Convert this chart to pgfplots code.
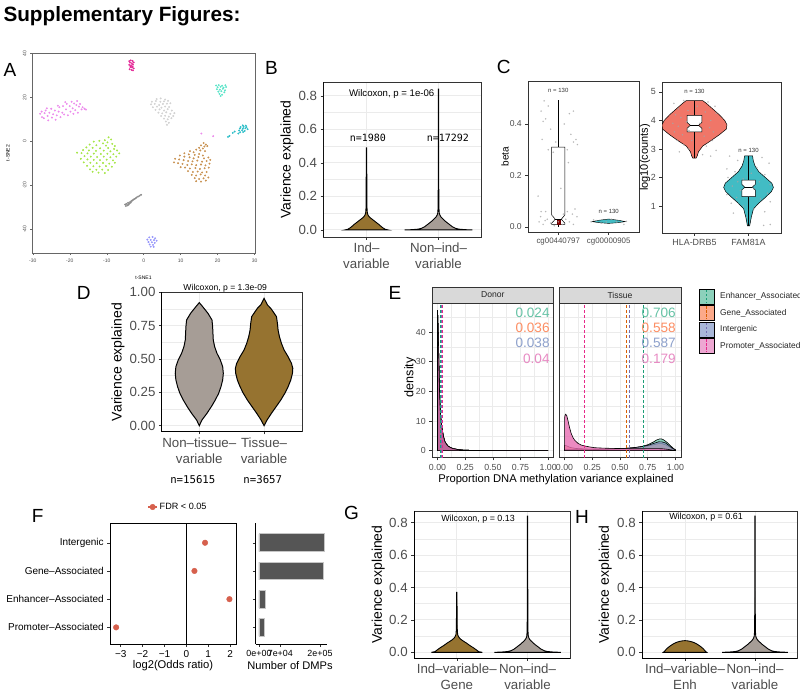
\documentclass[border=0pt]{standalone}
\usepackage{fontspec}
\setmainfont{Liberation Sans}
\newfontfamily\monofont{DejaVu Sans Mono}
\usepackage{pgfplots}
\usepackage{pgfplotstable}
\pgfplotsset{compat=1.18}
\newcommand\fs[2]{\fontsize{#1}{#2}\selectfont}
\definecolor{vbrown}{RGB}{150,115,48}
\definecolor{vgray}{RGB}{166,157,150}
\definecolor{gridc}{RGB}{235,235,235}
\definecolor{gg20}{RGB}{51,51,51}
\definecolor{gg30}{RGB}{77,77,77}
\definecolor{s2g}{HTML}{66C2A5}
\definecolor{s2o}{HTML}{FC8D62}
\definecolor{s2p}{HTML}{8DA0CB}
\definecolor{s2m}{HTML}{E78AC3}
\definecolor{d2g}{HTML}{1B9E77}
\definecolor{d2o}{HTML}{D95F02}
\definecolor{d2p}{HTML}{7570B3}
\definecolor{d2m}{HTML}{E7298A}
\definecolor{salm}{RGB}{240,118,104}
\definecolor{tealv}{RGB}{66,188,196}
\definecolor{fdr}{RGB}{214,96,77}
\definecolor{barg}{RGB}{85,85,85}
\definecolor{strip}{RGB}{217,217,217}
\definecolor{amag}{RGB}{228,40,150}
\definecolor{aturq}{RGB}{90,228,200}
\definecolor{aviol}{RGB}{236,140,236}
\definecolor{alg}{RGB}{210,210,210}
\definecolor{ateal}{RGB}{45,190,200}
\definecolor{abrown}{RGB}{200,145,80}
\definecolor{agreen}{RGB}{165,230,70}
\definecolor{agray}{RGB}{140,140,140}
\definecolor{ablue}{RGB}{150,150,250}
\pgfplotsset{gg/.style={scale only axis, anchor=south west, tick align=outside,
  major tick length=2.75pt, minor tick length=0pt, tick style={gg20, line width=0.5pt},
  axis line style={gg20, line width=0.5pt}, tick label style={text=gg30},
  major grid style={gridc, line width=0.9pt}, minor grid style={gridc, line width=0.45pt},
  xtick pos=bottom, ytick pos=left},
 vio/.style={gg, xmin=0.4, xmax=2.6, xtick={1,2}, grid=both,
  ytick={0,0.2,0.4,0.6,0.8}, yticklabels={0.0,0.2,0.4,0.6,0.8}, minor ytick={0.1,0.3,0.5,0.7},
  tick label style={font=\fs{13.3}{16}}, xticklabel style={align=center},
  ylabel={Varience explained}, ylabel style={font=\fs{14}{16}, anchor=center, text=black}}
}
% ---------- violin profiles: y, half width (right side up, left side down)
\pgfplotstableread{
y w
0 0.30
0.004 0.26
0.012 0.23
0.02 0.205
0.03 0.18
0.04 0.15
0.05 0.12
0.06 0.09
0.07 0.06
0.08 0.035
0.09 0.02
0.1 0.012
0.13 0.007
0.2 0.005
0.35 0.004
0.49 0.002
0.49 -0.002
0.35 -0.004
0.2 -0.005
0.13 -0.007
0.1 -0.012
0.09 -0.02
0.08 -0.035
0.07 -0.06
0.06 -0.09
0.05 -0.12
0.04 -0.15
0.03 -0.18
0.02 -0.205
0.012 -0.23
0.004 -0.26
0 -0.30
}\vBone
\pgfplotstableread{
y w
0 0.47
0.002 0.36
0.005 0.28
0.01 0.235
0.02 0.19
0.03 0.16
0.04 0.13
0.05 0.1
0.06 0.075
0.07 0.05
0.08 0.03
0.09 0.018
0.1 0.011
0.13 0.006
0.25 0.004
0.5 0.003
0.84 0.002
0.84 -0.002
0.5 -0.003
0.25 -0.004
0.13 -0.006
0.1 -0.011
0.09 -0.018
0.08 -0.03
0.07 -0.05
0.06 -0.075
0.05 -0.1
0.04 -0.13
0.03 -0.16
0.02 -0.19
0.01 -0.235
0.005 -0.28
0.002 -0.36
0 -0.47
}\vNon
\pgfplotstableread{
y w
0 0.36
0.004 0.31
0.014 0.28
0.025 0.245
0.035 0.21
0.045 0.175
0.056 0.14
0.066 0.105
0.076 0.07
0.086 0.042
0.097 0.024
0.11 0.012
0.14 0.007
0.25 0.004
0.37 0.002
0.37 -0.002
0.25 -0.004
0.14 -0.007
0.11 -0.012
0.097 -0.024
0.086 -0.042
0.076 -0.07
0.066 -0.105
0.056 -0.14
0.045 -0.175
0.035 -0.21
0.025 -0.245
0.014 -0.28
0.004 -0.31
0 -0.36
}\vGone
\pgfplotstableread{
y w
0 0.31
0.005 0.295
0.01 0.285
0.02 0.265
0.03 0.24
0.04 0.21
0.05 0.175
0.058 0.14
0.064 0.105
0.068 0.07
0.071 0.035
0.072 0
0.071 -0.035
0.068 -0.07
0.064 -0.105
0.058 -0.14
0.05 -0.175
0.04 -0.21
0.03 -0.24
0.02 -0.265
0.01 -0.285
0.005 -0.295
0 -0.31
}\vHone
\pgfplotstableread{
y w
0 0
0.0425 0.041
0.0925 0.118
0.1425 0.186
0.1925 0.247
0.2425 0.299
0.2925 0.335
0.3425 0.361
0.3925 0.371
0.4425 0.361
0.4925 0.325
0.5425 0.273
0.5925 0.237
0.6425 0.216
0.6925 0.211
0.7425 0.206
0.7925 0.196
0.8425 0.134
0.8925 0.052
0.9225 0
0.8925 -0.052
0.8425 -0.134
0.7925 -0.196
0.7425 -0.206
0.6925 -0.211
0.6425 -0.216
0.5925 -0.237
0.5425 -0.273
0.4925 -0.325
0.4425 -0.361
0.3925 -0.371
0.3425 -0.361
0.2925 -0.335
0.2425 -0.299
0.1925 -0.247
0.1425 -0.186
0.0925 -0.118
0.0425 -0.041
}\vDone
\pgfplotstableread{
y w
0 0
0.0425 0.046
0.0925 0.113
0.1425 0.186
0.1925 0.258
0.2425 0.32
0.2925 0.371
0.3425 0.412
0.3925 0.438
0.43 0.443
0.4675 0.423
0.5175 0.371
0.5675 0.309
0.6175 0.268
0.6675 0.237
0.7175 0.216
0.7675 0.206
0.8175 0.191
0.855 0.139
0.88 0.103
0.905 0.052
0.93 0.026
0.955 0
0.93 -0.026
0.905 -0.052
0.88 -0.103
0.855 -0.139
0.8175 -0.191
0.7675 -0.206
0.7175 -0.216
0.6675 -0.237
0.6175 -0.268
0.5675 -0.309
0.5175 -0.371
0.4675 -0.423
0.43 -0.443
0.3925 -0.438
0.3425 -0.412
0.2925 -0.371
0.2425 -0.32
0.1925 -0.258
0.1425 -0.186
0.0925 -0.113
0.0425 -0.046
}\vDtwo
\pgfplotstableread{
y w
2.68 0.03
2.75 0.05
2.9 0.074
3.1 0.15
3.3 0.31
3.5 0.46
3.7 0.59
3.85 0.6
4.0 0.56
4.2 0.46
4.4 0.34
4.6 0.22
4.7 0.15
4.7 -0.15
4.6 -0.22
4.4 -0.34
4.2 -0.46
4.0 -0.56
3.85 -0.6
3.7 -0.59
3.5 -0.46
3.3 -0.31
3.1 -0.15
2.9 -0.074
2.75 -0.05
2.68 -0.03
}\vHLA
\pgfplotstableread{
y w
0.3 0.02
0.6 0.05
0.9 0.09
1.1 0.19
1.3 0.31
1.5 0.42
1.65 0.46
1.8 0.43
2.0 0.31
2.2 0.19
2.4 0.12
2.6 0.086
2.76 0.074
2.76 -0.074
2.6 -0.086
2.4 -0.12
2.2 -0.19
2.0 -0.31
1.8 -0.43
1.65 -0.46
1.5 -0.42
1.3 -0.31
1.1 -0.19
0.9 -0.09
0.6 -0.05
0.3 -0.02
}\vFAM
% ---------- densities
\pgfplotstableread{
x y
0 0
0 47.4
0.003 44
0.006 40
0.009 35.6
0.012 30
0.015 24.4
0.018 20
0.021 16.6
0.025 13.5
0.03 11
0.037 8.5
0.045 6.5
0.055 4.6
0.066 3.1
0.08 2.2
0.096 1.5
0.12 1.0
0.14 0.7
0.18 0.4
0.23 0.2
0.3 0.1
0.5 0.03
0.75 0.01
1.0 0
}\donor
\pgfplotstableread{
x y
0 0
0 0.45
0.1 0.4
0.2 0.38
0.3 0.4
0.4 0.45
0.5 0.6
0.6 0.9
0.65 1.1
0.7 1.45
0.75 2.0
0.8 2.9
0.83 3.6
0.86 4.0
0.88 3.9
0.9 3.5
0.93 2.6
0.96 1.5
0.98 0.8
1.0 0.3
1.0 0
}\tEnh
\pgfplotstableread{
x y
0 0
0 1.8
0.02 1.6
0.05 1.1
0.1 0.75
0.2 0.55
0.3 0.5
0.4 0.55
0.5 0.7
0.6 0.9
0.7 1.3
0.75 1.6
0.8 2.0
0.85 2.4
0.88 2.35
0.91 2.0
0.94 1.4
0.97 0.7
1.0 0.2
1.0 0
}\tGene
\pgfplotstableread{
x y
0 0
0 0.35
0.1 0.35
0.2 0.35
0.3 0.4
0.4 0.5
0.5 0.65
0.6 0.9
0.7 1.4
0.75 1.8
0.8 2.4
0.85 3.0
0.88 2.95
0.91 2.6
0.94 1.8
0.97 0.9
1.0 0.25
1.0 0
}\tInt
\pgfplotstableread{
x y
0 0
0 11
0.005 12
0.01 12.3
0.02 11.8
0.03 10.3
0.045 7.8
0.06 5.8
0.075 4.5
0.09 3.6
0.12 2.5
0.15 1.9
0.18 1.6
0.22 1.3
0.27 1.0
0.35 0.85
0.45 0.75
0.6 0.65
0.7 0.65
0.8 0.7
0.88 0.65
0.93 0.45
0.97 0.2
1.0 0.05
1.0 0
}\tProm
\begin{document}
\begin{tikzpicture}
\useasboundingbox (0,0) rectangle (800pt,696pt);
\clip (0,0) rectangle (800pt,696pt);
% ================= A
\begin{axis}[scale only axis, anchor=south west, at={(32pt,443pt)}, width=223pt, height=200pt,
  xmin=-30.2, xmax=30.1, ymin=-50.9, ymax=40.2,
  axis line style={black!60, line width=0.4pt}, tick align=outside, major tick length=2pt,
  tick style={black!60, line width=0.4pt}, xtick pos=bottom, ytick pos=left,
  xtick={-30,-20,-10,0,10,20,30}, xticklabels={-30,-20,-10,0,10,20,30},
  ytick={-40,-20,0,20,40}, yticklabels={-40,-20,0,20,40},
  tick label style={font=\fs{5}{6}, text=black!70}, yticklabel style={rotate=90, anchor=south},
  xlabel={t-SNE1}, xlabel style={font=\fs{5}{6}, at={(axis description cs:0.5,-0.125)}, anchor=center},
  ylabel={t-SNE2}, ylabel style={font=\fs{5}{6}, at={(axis description cs:-0.108,0.5)}, anchor=center},
  every axis plot/.append style={only marks, mark=*, mark size=0.75pt}]
\addplot[amag] coordinates {(-3.9,36.5) (-3.5,36.8) (-3.0,36.6) (-3.7,35.8) (-3.2,35.5) (-2.7,35.9) (-3.9,34.8) (-3.4,34.6) (-2.9,34.9) (-3.6,33.8) (-3.1,33.6) (-2.7,33.2) (-3.8,32.8) (-3.3,32.5) (-2.9,32.3) (-3.5,34.1) (-3.0,34.0)};
\addplot[aturq] coordinates {(19.6,25.4) (20.3,25.6) (21.2,25.3) (22.1,25.5) (20.0,24.6) (20.8,24.8) (21.6,24.4) (22.3,24.7) (19.8,23.7) (20.6,23.5) (21.4,23.9) (22.0,23.2) (20.2,22.6) (21.0,22.8) (21.8,22.3) (20.5,21.6) (21.2,21.2) (20.8,20.6)};
\addplot[aviol] coordinates {(-28,12.5) (-27.5,11) (-27.6,13.5) (-27,10.5) (-26.8,12.8) (-26.5,14) (-26,11.5) (-25.8,9.5) (-25.5,13) (-25,14.8) (-24.8,10.8) (-24.5,12.3) (-24,14) (-23.8,9.8) (-23.5,11.8) (-23,13.5) (-22.8,15.5) (-22.5,11) (-22,13) (-21.8,16) (-21.5,12.2) (-21,14.5) (-20.8,17) (-20.5,11.8) (-20,16) (-19.8,13.5) (-19.5,18) (-19.2,15) (-19,12.5) (-18.8,17.2) (-18.5,14.2) (-18.2,16.5) (-18,18.3) (-17.8,13) (-17.5,15.8) (-17.2,17) (-16.8,14.5) (-16.5,15.5) (-16,14.8) (-15.6,14.4) (-26.2,15) (-23.2,16.2) (-21.2,17.8) (15.6,3.5) (18.8,2.3)};
\addplot[alg] coordinates {(3.5,19.2) (4.6,19.5) (5.8,19) (2.2,18) (3.3,18.3) (4.5,18) (5.5,18.2) (6.6,18.4) (2.0,16.8) (3.0,17) (4.2,16.5) (5.2,17) (6.3,17.1) (7.2,17.3) (2.5,15.5) (3.6,15.8) (4.8,15.3) (5.8,15.8) (6.9,15.6) (3.2,14.3) (4.3,14.5) (5.5,14) (6.5,14.6) (7.6,14) (4,13) (5,12.7) (6.1,13.2) (7.2,12.5) (8.3,12.8) (4.7,11.5) (5.8,11.6) (6.8,11.2) (8,11.5) (5.5,10.3) (6.5,10) (7.5,10.5) (6,9) (6.8,8.4) (6.3,7.5)};
\addplot[ateal] coordinates {(26.8,7.2) (27.6,7.1) (26.2,6.5) (27,6.6) (27.8,6.4) (26,5.8) (26.8,5.7) (27.5,5.9) (28.1,5.5) (25.8,4.9) (26.6,5) (27.3,4.7) (26.1,4.1) (26.9,4.2) (25.6,3.5) (24.6,4.4) (24.1,3.8) (22.8,2.0) (23.2,2.4)};
\addplot[abrown] coordinates {(16.2,-0.8) (16.8,-1.5) (15.5,-1.9) (16.4,-2.4) (17.2,-2.2) (15,-3) (16,-3.3) (14.2,-3.8) (15.3,-4.2) (16.6,-4.5) (12.5,-4.5) (13.5,-5) (11,-5.5) (12.2,-6) (13.8,-6.2) (15,-5.8) (16,-6.5) (9.8,-6.5) (11,-7) (12.4,-7.3) (13.5,-7.8) (14.8,-7.2) (16.3,-7.8) (17.5,-7.4) (8.5,-8) (9.6,-8.3) (10.8,-8.6) (12,-9) (13.2,-9.2) (14.5,-8.8) (15.8,-9.3) (17,-9) (18,-8.5) (8.2,-9.6) (9.3,-10) (10.5,-10.3) (11.8,-10.8) (13,-10.5) (14.2,-10.9) (15.5,-10.6) (16.7,-11) (17.8,-10.2) (10,-11.8) (11.2,-12) (12.5,-12.4) (14,-12.2) (15.2,-12.6) (16.5,-12.3) (17.6,-12) (12,-13.6) (13.3,-14) (14.6,-13.8) (15.8,-14.2) (17,-14) (13,-15.3) (14.2,-15.6) (15.4,-15.1) (16.6,-15.6) (13.8,-16.8) (15,-17.2) (16.2,-16.9) (14.2,-18.2) (15.5,-18.4) (16.8,-17.9) (17.5,-16.5)};
\addplot[agreen] coordinates {(-9.5,1.8) (-8.8,0.8) (-10.5,0.5) (-12,0.2) (-13.5,-0.2) (-9.8,-0.5) (-11,-1) (-8.5,-1.2) (-14.6,-1.5) (-12.8,-1.8) (-10.2,-2) (-7.8,-2.2) (-15.5,-2.8) (-13.8,-3) (-11.8,-3.2) (-9.6,-3.1) (-8,-3.5) (-16.4,-4) (-14.8,-4.2) (-12.9,-4.4) (-10.8,-4.3) (-9,-4.6) (-7.2,-4.2) (-18,-5.2) (-16.8,-5.4) (-15.2,-5.5) (-13.5,-5.6) (-11.6,-5.8) (-9.8,-5.7) (-8.2,-5.9) (-6.6,-5.5) (-16,-6.8) (-14.3,-7) (-12.6,-7.2) (-10.8,-7) (-9,-7.3) (-7.4,-7) (-17,-8) (-15.2,-8.3) (-13.5,-8.5) (-11.8,-8.6) (-10,-8.4) (-8.3,-8.7) (-16.2,-9.6) (-14.4,-9.8) (-12.7,-10) (-11,-9.9) (-9.3,-10.2) (-7.8,-9.8) (-15.3,-11.2) (-13.6,-11.4) (-11.9,-11.5) (-10.2,-11.3) (-8.6,-11.6) (-14.5,-12.8) (-12.8,-13) (-11.2,-12.9) (-9.6,-13.1) (-12.2,-14.3) (-10.5,-14.5) (-13.8,-13.9)};
\addplot[agray] coordinates {(-5,-28.8) (-4.6,-28.5) (-4.4,-29.2) (-4.2,-28) (-3.9,-28.4) (-3.7,-27.7) (-3.4,-27.3) (-3.1,-27) (-2.8,-26.6) (-2.5,-26.3) (-2.2,-26) (-1.9,-25.6) (-1.5,-25.2) (-1.1,-24.8) (-0.7,-24.4) (-4.8,-29.5) (-4.1,-28.9) (-3.5,-28)};
\addplot[ablue] coordinates {(1.5,-43.8) (2.4,-43.6) (3.1,-44.2) (1,-44.8) (1.9,-44.9) (2.8,-45) (3.5,-45.3) (1.3,-45.9) (2.2,-46) (3,-46.3) (1.6,-47) (2.5,-47.2) (1.9,-48) (2.7,-48.1)};
\end{axis}
% ================= B
\begin{axis}[vio, at={(323.3pt,459pt)}, width=158.4pt, height=155pt, ymin=-0.042, ymax=0.882,
  xticklabels={{Ind–\\variable},{Non–ind–\\variable}},
  ylabel style={at={(axis description cs:-0.229,0.5)}}]
\addplot[fill=vbrown, draw=black, line width=0.9pt] table[x expr=1+\thisrow{w}, y=y] {\vBone} -- cycle;
\addplot[fill=vgray, draw=black, line width=0.9pt] table[x expr=2+\thisrow{w}, y=y] {\vNon} -- cycle;
\node[font=\fs{9.6}{11}] at (axis cs:1.35,0.81) {Wilcoxon, p = 1e-06};
\node[font=\monofont\fs{10}{11}] at (axis cs:1.02,0.55) {n=1980};
\node[font=\monofont\fs{10}{11}] at (axis cs:2.13,0.55) {n=17292};
\draw[black, line width=0.7pt] (rel axis cs:0,1) -- (rel axis cs:0,0) -- (rel axis cs:1,0);
\end{axis}
% ================= C1
\begin{axis}[gg, at={(528pt,464pt)}, width=111pt, height=151pt, xmin=0.4, xmax=2.6, ymin=-0.0194, ymax=0.567,
  xtick={1,2}, xticklabels={cg00440797,cg00000905}, ytick={0,0.2,0.4}, yticklabels={0.0,0.2,0.4},
  xticklabel style={font=\fs{7.9}{9}}, yticklabel style={font=\fs{8.6}{10}},
  ylabel={beta}, ylabel style={font=\fs{10}{12}, text=black, at={(axis description cs:-0.207,0.5)}, anchor=center}]
\addplot[black, line width=0.6pt] coordinates {(1,0.31) (1,0.493)};
\addplot[black, line width=0.6pt] coordinates {(1,0.01) (1,0.0)};
\addplot[fill=white, draw=black, line width=0.5pt] coordinates {(0.87,0.31) (1.13,0.31) (1.13,0.047) (1.06,0.03) (1.13,0.015) (1.13,0.01) (0.87,0.01) (0.87,0.015) (0.94,0.03) (0.87,0.047)} -- cycle;
\addplot[fill=red!55!black, draw=red!40!black] coordinates {(0.97,0.01) (1.03,0.01) (1.03,0.032) (0.97,0.032)} -- cycle;
\addplot[black, line width=0.6pt] coordinates {(0.94,0.03) (1.06,0.03)};
\addplot[fill=tealv, draw=black, line width=0.4pt] coordinates {(1.67,0.021) (1.8,0.017) (2,0.014) (2.2,0.017) (2.33,0.021) (2.2,0.026) (2,0.031) (1.8,0.026)} -- cycle;
\addplot[only marks, mark=*, mark size=0.6pt, gray!70, opacity=0.6] coordinates {(0.72,0.49) (0.8,0.47) (0.66,0.45) (1.3,0.45) (1.22,0.44) (0.75,0.42) (0.7,0.41) (1.12,0.40) (0.85,0.38) (1.25,0.36) (1.35,0.34) (0.68,0.34) (1.3,0.33) (0.95,0.33) (0.8,0.3) (1.2,0.25) (1.18,0.3) (0.9,0.29) (1.38,0.32) (0.6,0.12) (1.05,0.15) (0.75,0.06) (0.65,0.04) (0.62,0.02) (0.7,0.01) (0.78,0.03) (0.85,0.015) (0.92,0.005) (1.0,0.02) (1.08,0.01) (1.15,0.03) (1.22,0.02) (1.3,0.01) (1.37,0.04) (0.66,0.06) (1.33,0.07) (1.28,0.05) (0.74,0.025) (1.18,0.06) (1.1,0.05) (0.88,0.045) (1.65,0.02) (1.75,0.025) (1.85,0.015) (1.95,0.02) (2.05,0.03) (2.15,0.02) (2.25,0.018) (2.35,0.022) (1.7,0.028) (2.3,0.01)};
\node[font=\fs{6}{7}, text=black!80] at (axis cs:1,0.53) {n = 130};
\node[font=\fs{6}{7}, text=black!80] at (axis cs:2,0.062) {n = 130};
\end{axis}
% ================= C2
\begin{axis}[gg, at={(662pt,463pt)}, width=119pt, height=151pt, xmin=0.4, xmax=2.6, ymin=0.053, ymax=5.35,
  xtick={1,2}, xticklabels={HLA-DRB5,FAM81A}, ytick={1,2,3,4,5}, yticklabels={1,2,3,4,5},
  tick label style={font=\fs{8.9}{10}},
  ylabel={log10(counts)}, ylabel style={font=\fs{11}{12}, text=black, at={(axis description cs:-0.143,0.5)}, anchor=center}]
\addplot[fill=salm, draw=black, line width=0.5pt] table[x expr=1+\thisrow{w}, y=y] {\vHLA} -- cycle;
\addplot[fill=tealv, draw=black, line width=0.5pt] table[x expr=2+\thisrow{w}, y=y] {\vFAM} -- cycle;
\addplot[black, line width=0.6pt] coordinates {(1,4.18) (1,4.7)};
\addplot[black, line width=0.6pt] coordinates {(1,3.6) (1,2.7)};
\addplot[black, line width=0.6pt] coordinates {(2,1.91) (2,2.76)};
\addplot[black, line width=0.6pt] coordinates {(2,1.33) (2,0.3)};
\addplot[fill=white, draw=black, line width=0.5pt] coordinates {(0.865,4.18) (1.135,4.18) (1.135,3.93) (1.075,3.83) (1.135,3.73) (1.135,3.6) (0.865,3.6) (0.865,3.73) (0.925,3.83) (0.865,3.93)} -- cycle;
\addplot[black, line width=0.6pt] coordinates {(0.925,3.83) (1.075,3.83)};
\addplot[fill=white, draw=black, line width=0.5pt] coordinates {(1.875,1.91) (2.125,1.91) (2.125,1.76) (2.07,1.66) (2.125,1.56) (2.125,1.33) (1.875,1.33) (1.875,1.56) (1.93,1.66) (1.875,1.76)} -- cycle;
\addplot[black, line width=0.6pt] coordinates {(1.93,1.66) (2.07,1.66)};
\addplot[only marks, mark=*, mark size=0.6pt, gray!70, opacity=0.6] coordinates {(0.62,4.6) (0.7,4.4) (0.8,4.7) (1.25,4.65) (1.38,4.5) (0.65,4.2) (0.75,4.1) (1.2,4.3) (1.3,4.0) (1.4,4.25) (0.6,3.9) (0.7,3.8) (0.85,3.95) (1.1,3.9) (1.28,3.75) (1.35,3.6) (0.63,3.6) (0.78,3.5) (0.9,3.65) (1.18,3.45) (1.33,3.3) (0.68,3.3) (0.8,3.15) (1.22,3.1) (1.4,2.95) (0.72,2.9) (0.9,3.0) (1.15,2.8) (1.3,2.75) (0.95,3.3) (1.05,4.5) (0.88,4.35) (1.65,2.75) (1.8,2.6) (2.25,2.7) (2.38,2.5) (1.6,2.3) (1.75,2.2) (2.15,2.35) (2.3,2.1) (1.62,2.0) (1.9,1.95) (2.2,1.85) (2.4,1.75) (1.7,1.7) (1.85,1.55) (2.1,1.6) (2.35,1.45) (1.6,1.4) (1.78,1.3) (2.22,1.25) (2.4,1.15) (1.68,1.1) (1.9,1.0) (2.1,0.9) (2.3,0.8) (1.72,0.75) (1.95,0.6) (2.28,0.32) (2.4,0.35) (1.8,1.85) (2.05,2.15)};
\node[font=\fs{6}{7}, text=black!80] at (axis cs:1,5.03) {n = 130};
\node[font=\fs{6}{7}, text=black!80] at (axis cs:2,2.96) {n = 130};
\end{axis}
% ================= D
\begin{axis}[vio, at={(161.7pt,264.3pt)}, width=140.6pt, height=139.4pt, clip=false,
  xmin=0.42, xmax=2.59, ymin=-0.045, ymax=1.0,
  ytick={0,0.25,0.5,0.75,1}, yticklabels={0.00,0.25,0.50,0.75,1.00}, minor ytick={0.125,0.375,0.625,0.875},
  xticklabels={{Non–tissue–\\variable},{Tissue–\\variable}},
  ylabel style={at={(axis description cs:-0.31,0.5)}}]
\addplot[fill=vgray, draw=black, line width=1pt] table[x expr=1+\thisrow{w}, y=y] {\vDone} -- cycle;
\addplot[fill=vbrown, draw=black, line width=1pt] table[x expr=2+\thisrow{w}, y=y] {\vDtwo} -- cycle;
\node[font=\fs{8.6}{10}] at (axis cs:1.4,1.03) {Wilcoxon, p = 1.3e-09};
\node[font=\monofont\fs{10.7}{12}] at (axis cs:0.9,-0.407) {n=15615};
\node[font=\monofont\fs{10.7}{12}] at (axis cs:1.98,-0.407) {n=3657};
\draw[black, line width=0.7pt] (rel axis cs:0,1) -- (rel axis cs:0,0) -- (rel axis cs:1,0);
\end{axis}
% ================= E1
\begin{axis}[gg, at={(432pt,238.3pt)}, width=121.7pt, height=154.7pt, clip=false,
  xmin=-0.05, xmax=1.05, ymin=-2.37, ymax=49.8, grid=both,
  xtick={0,0.25,0.5,0.75,1}, xticklabels={0.00,0.25,0.50,0.75,1.00}, minor xtick={0.125,0.375,0.625,0.875},
  ytick={0,10,20,30,40}, yticklabels={0,10,20,30,40}, minor ytick={5,15,25,35,45},
  tick label style={font=\fs{8.8}{10}},
  ylabel={density}, ylabel style={font=\fs{12.6}{14}, text=black, at={(axis description cs:-0.18,0.52)}, anchor=center}]
\addplot[fill=s2g, fill opacity=0.75, draw=black, line width=0.6pt] table[x=x,y=y] {\donor} -- cycle;
\addplot[fill=s2o, fill opacity=0.75, draw=black, line width=0.6pt] table[x=x,y=y] {\donor} -- cycle;
\addplot[fill=s2p, fill opacity=0.75, draw=black, line width=0.6pt] table[x=x,y=y] {\donor} -- cycle;
\addplot[fill=s2m!70!d2m!85!black, fill opacity=0.85, draw=black, line width=0.6pt] table[x=x,y=y] {\donor} -- cycle;
\addplot[d2g, line width=0.7pt, dash pattern=on 3pt off 2pt] coordinates {(0.024,-2.37) (0.024,49.8)};
\addplot[d2o, line width=0.7pt, dash pattern=on 3pt off 2pt] coordinates {(0.036,-2.37) (0.036,49.8)};
\addplot[d2p, line width=0.7pt, dash pattern=on 3pt off 2pt] coordinates {(0.038,-2.37) (0.038,49.8)};
\addplot[d2m, line width=0.7pt, dash pattern=on 3pt off 2pt] coordinates {(0.04,-2.37) (0.04,49.8)};
\node[anchor=east, text=s2g, font=\fs{13.6}{14}] at (axis cs:1.045,46.4) {0.024};
\node[anchor=east, text=s2o, font=\fs{13.6}{14}] at (axis cs:1.045,41.3) {0.036};
\node[anchor=east, text=s2p, font=\fs{13.6}{14}] at (axis cs:1.045,36.3) {0.038};
\node[anchor=east, text=s2m, font=\fs{13.6}{14}] at (axis cs:1.045,30.9) {0.04};
\draw[fill=strip, draw=gg20, line width=0.5pt] (rel axis cs:0,1) rectangle ([yshift=16pt]rel axis cs:1,1);
\node[font=\fs{8.6}{10}, text=black!85] at ([yshift=8pt]rel axis cs:0.5,1) {Donor};
\end{axis}
% ================= E2
\begin{axis}[gg, at={(559pt,238.3pt)}, width=122pt, height=154.7pt, clip=false,
  xmin=-0.05, xmax=1.05, ymin=-2.37, ymax=49.8, grid=both,
  xtick={0,0.25,0.5,0.75,1}, xticklabels={0.00,0.25,0.50,0.75,1.00}, minor xtick={0.125,0.375,0.625,0.875},
  ytick={0,10,20,30,40}, yticklabels={}, minor ytick={5,15,25,35,45}, ytick style={draw=none},
  tick label style={font=\fs{8.8}{10}}]
\addplot[fill=s2g, fill opacity=0.75, draw=black, line width=0.6pt] table[x=x,y=y] {\tEnh} -- cycle;
\addplot[fill=s2o, fill opacity=0.75, draw=black, line width=0.6pt] table[x=x,y=y] {\tGene} -- cycle;
\addplot[fill=s2p, fill opacity=0.75, draw=black, line width=0.6pt] table[x=x,y=y] {\tInt} -- cycle;
\addplot[fill=s2m!70!d2m, fill opacity=0.8, draw=black, line width=0.6pt] table[x=x,y=y] {\tProm} -- cycle;
\addplot[d2g, line width=0.7pt, dash pattern=on 3pt off 2pt] coordinates {(0.706,-2.37) (0.706,49.8)};
\addplot[d2o, line width=0.7pt, dash pattern=on 3pt off 2pt] coordinates {(0.558,-2.37) (0.558,49.8)};
\addplot[d2p, line width=0.7pt, dash pattern=on 3pt off 2pt] coordinates {(0.587,-2.37) (0.587,49.8)};
\addplot[d2m, line width=0.7pt, dash pattern=on 3pt off 2pt] coordinates {(0.179,-2.37) (0.179,49.8)};
\node[anchor=east, text=s2g, font=\fs{13.6}{14}] at (axis cs:1.034,46.4) {0.706};
\node[anchor=east, text=s2o, font=\fs{13.6}{14}] at (axis cs:1.034,41.3) {0.558};
\node[anchor=east, text=s2p, font=\fs{13.6}{14}] at (axis cs:1.034,36.3) {0.587};
\node[anchor=east, text=s2m, font=\fs{13.6}{14}] at (axis cs:1.034,30.9) {0.179};
\draw[fill=strip, draw=gg20, line width=0.5pt] (rel axis cs:0,1) rectangle ([yshift=16pt]rel axis cs:1,1);
\node[font=\fs{8.6}{10}, text=black!85] at ([yshift=8pt]rel axis cs:0.5,1) {Tissue};
\end{axis}
% ================= F1
\begin{axis}[gg, at={(110pt,52pt)}, width=126pt, height=120.7pt,
  xmin=-3.49, xmax=2.27, ymin=0.41, ymax=4.69,
  axis line style={black, line width=0.6pt},
  xtick={-3,-2,-1,0,1,2}, xticklabels={−3,−2,−1,0,1,2},
  ytick={1,2,3,4}, yticklabels={Promoter–Associated,Enhancer–Associated,Gene–Associated,Intergenic},
  tick label style={text=black, font=\fs{10}{12}}, xticklabel style={yshift=-0.5pt},
  xlabel={log2(Odds ratio)}, xlabel style={font=\fs{11.2}{13}, at={(axis description cs:0.5,-0.175)}, anchor=center},
  legend style={at={(axis description cs:0.54,1.135)}, anchor=center, draw=none, fill=none, font=\fs{9.1}{10}},
  legend image code/.code={\draw[fdr,line width=1.2pt](0pt,0pt)--(9pt,0pt);\fill[fdr](4.5pt,0pt) circle(2.8pt);}]
\addplot[black, line width=0.7pt, forget plot] coordinates {(0,0.41) (0,4.69)};
\addplot[only marks, mark=*, mark size=2.8pt, fdr, error bars/.cd, x dir=both, x explicit, error mark=none, error bar style={fdr, line width=1.2pt}] coordinates {(0.855,4) +- (0.09,0) (0.37,3) +- (0.09,0) (1.97,2) +- (0.1,0) (-3.21,1) +- (0.1,0)};
\addlegendentry{FDR < 0.05}
\end{axis}
% ================= F2
\begin{axis}[gg, at={(255.6pt,52pt)}, width=71.7pt, height=120.7pt,
  xmin=-11000, xmax=224000, ymin=0.41, ymax=4.69, scaled x ticks=false,
  axis x line*=bottom, axis y line*=left, axis line style={black, line width=0.6pt},
  xtick={0,70000,200000}, xticklabels={0e+00,7e+04,2e+05}, ytick={1,2,3,4}, yticklabels={},
  tick label style={text=black, font=\fs{8.9}{10}},
  xlabel={Number of DMPs}, xlabel style={font=\fs{11.1}{13}, at={(axis description cs:0.48,-0.175)}, anchor=center}]
\addplot[xbar, bar width=17.8pt, fill=barg, draw=gray!45, line width=0.8pt] coordinates {(213000,4) (211000,3) (19700,2) (17500,1)};
\end{axis}
% ================= G
\begin{axis}[vio, at={(414pt,38pt)}, width=156pt, height=147pt, xmin=0.395, ymin=-0.035, ymax=0.872,
  xticklabels={{Ind–variable–\\Gene},{Non–ind–\\variable}},
  ylabel style={at={(axis description cs:-0.229,0.5)}}]
\addplot[fill=vbrown, draw=black, line width=0.9pt] table[x expr=1+\thisrow{w}, y=y] {\vGone} -- cycle;
\addplot[fill=vgray, draw=black, line width=0.9pt] table[x expr=2+\thisrow{w}, y=y] {\vNon} -- cycle;
\node[font=\fs{8.9}{10}] at (axis cs:1.3,0.823) {Wilcoxon, p = 0.13};
\draw[black, line width=0.7pt] (rel axis cs:0,1) -- (rel axis cs:0,0) -- (rel axis cs:1,0);
\end{axis}
% ================= H
\begin{axis}[vio, at={(642pt,38pt)}, width=155pt, height=147pt, xmin=0.386, ymin=-0.035, ymax=0.872,
  xticklabels={{Ind–variable–\\Enh},{Non–ind–\\variable}},
  ylabel style={at={(axis description cs:-0.237,0.5)}}]
\addplot[fill=vbrown, draw=black, line width=0.9pt] table[x expr=1+\thisrow{w}, y=y] {\vHone} -- cycle;
\addplot[fill=vgray, draw=black, line width=0.9pt] table[x expr=2+\thisrow{w}, y=y] {\vNon} -- cycle;
\node[font=\fs{8.9}{10}] at (axis cs:1.3,0.835) {Wilcoxon, p = 0.61};
\draw[black, line width=0.7pt] (rel axis cs:0,1) -- (rel axis cs:0,0) -- (rel axis cs:1,0);
\end{axis}
% ================= annotations
\begin{scope}[x=1pt, y=-1pt, shift={(0pt,696pt)}]
\node[anchor=base west, inner sep=0pt, font=\bfseries\fs{20.7}{24}] at (3.3,21.7) {Supplementary Figures:};
\foreach \l/\xx/\yy in {A/3.3/76.7, B/265/75, C/496.7/73.3, D/76.7/300, E/388.3/300, F/31.7/522.7, G/344/520, H/575/523.3}
  \node[anchor=base west, inner sep=0pt, font=\fs{19}{22}] at (\xx,\yy) {\l};
\node[font=\fs{11.2}{13}] at (556,480) {Proportion DNA methylation variance explained};
\foreach \c/\d/\t/\yy in {s2g/d2g/Enhancer\_Associated/289, s2o/d2o/Gene\_Associated/305.5, s2p/d2p/Intergenic/322, s2m/d2m/Promoter\_Associated/338.5} {
  \fill[white] (699,\yy) rectangle (714,\yy+15);
  \draw[fill=\c, fill opacity=0.75, draw=black, line width=0.7pt] (699,\yy) rectangle (714,\yy+15);
  \draw[\d, line width=0.7pt, dash pattern=on 2.5pt off 1.5pt] (706.5,\yy+1) -- (706.5,\yy+14);
  \node[anchor=west, inner sep=0pt, font=\fs{8.4}{10}, text=black!85] at (720,\yy+7.5) {\t};
}
\end{scope}
\end{tikzpicture}
\end{document}
